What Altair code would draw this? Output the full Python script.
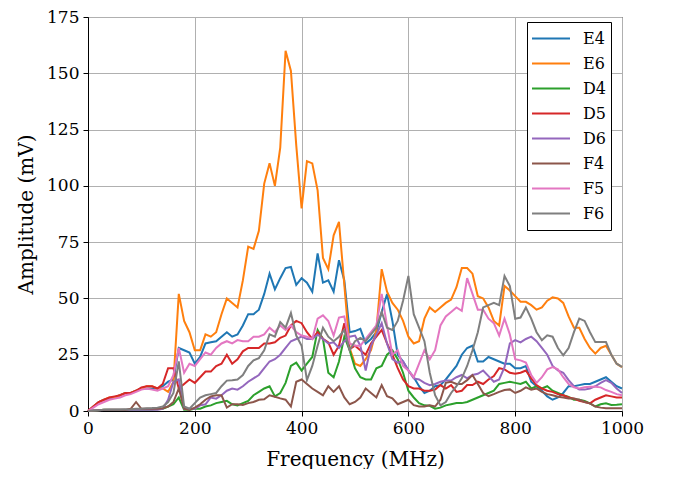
import altair as alt
import pandas as pd

freq = list(range(0, 1001, 10))

series = ["E4", "E6", "D4", "D5", "D6", "F4", "F5", "F6"]
colors = ["#1f77b4", "#ff7f0e", "#2ca02c", "#d62728", "#9467bd", "#8c564b", "#e377c2", "#7f7f7f"]

E4 = [0, 2, 4, 5, 5.5, 6, 7, 8, 8, 9, 10, 10, 10, 10, 11, 13, 14, 28, 27, 26,
      21, 24, 30, 30.5, 31, 33, 35, 33, 34, 38, 43, 43, 45, 52, 61, 54, 59, 63.5, 64, 56,
      59, 57, 53, 70, 57, 58, 53, 67, 58, 35, 35.5, 36.5, 30, 32, 35, 44, 52, 40, 25, 22,
      18, 15, 11, 8, 9, 11, 11.5, 14, 17, 20, 25, 28, 29, 22, 22, 24, 23, 22, 21, 21,
      19, 19, 20, 13, 11, 9, 6.5, 5, 6, 8, 11, 11, 11.5, 12, 12, 13, 14, 15, 13, 11, 10]

E6 = [0, 2, 4, 5, 6, 6, 7, 8, 8, 9, 10, 11, 11, 10, 10, 8.5, 13, 52, 40, 35,
      27, 27, 34, 33, 35, 43, 50, 48, 46, 58, 73, 72, 80, 101, 110, 100, 117, 160, 151, 118,
      90, 111, 110, 98, 68, 63, 78, 84, 56, 28, 21, 20, 23, 27, 36, 63, 53, 48, 45, 40,
      33, 30, 31, 41, 46, 44, 46, 48, 49.5, 55, 63.5, 63.5, 61, 51, 50, 46, 40, 38, 55.5, 53.5,
      51, 48.5, 48.5, 47, 45, 46, 49, 50.5, 50, 48, 42, 37, 37, 32, 28, 25.5, 28, 29, 25, 21, 19.5]

D4 = [0, 0, 0.3, 0.5, 0.5, 0.5, 0.5, 0.5, 0.5, 0.5, 0.5, 0.5, 0.5, 0.8, 1, 2, 3, 6, 0.5, 0.5,
      1, 1, 2, 2.5, 3.5, 4, 4.5, 3, 2.5, 3.5, 4.5, 7, 8.5, 10, 11, 6.5, 8, 12.5, 20, 21.5,
      18, 21, 24, 36, 32, 17, 15, 22, 33, 27, 19, 15, 14, 14, 19, 20, 25, 27, 23, 17,
      9, 6, 3.5, 2.5, 2.3, 1, 1.5, 2.5, 3, 3.5, 3.5, 4, 5, 6, 7, 8, 9, 12, 12.5, 13,
      12.5, 12, 13, 10, 11, 10, 11, 9, 8, 7, 6.3, 5, 5, 4.5, 3.4, 2, 3, 3.4, 2.7, 2.8, 3]

D5 = [0, 2, 4, 5, 6, 6.5, 7, 8, 8, 9, 10.5, 11, 11, 10, 12, 19, 19, 10, 12, 14,
      12.5, 15, 17.5, 17.5, 20, 21, 25, 21, 23, 26.5, 28, 28, 28, 30, 30, 30.5, 32.5, 33.5, 38, 40,
      39, 35, 32, 35, 32, 30.5, 25, 29, 39, 27.5, 29, 27, 25, 30, 33, 36, 30, 25, 19, 14,
      11, 10, 10, 9, 9, 9.5, 11.5, 10, 11.5, 8.5, 9, 11.5, 11.5, 13, 12, 14, 15.5, 19, 18.5, 17,
      16.5, 17, 18, 14.5, 11.5, 10, 9, 8.5, 7.5, 7, 6, 5.5, 4.5, 4, 3.4, 5, 6, 7, 6.5, 6, 6]

D6 = [0, 0.2, 0.3, 0.4, 0.5, 0.5, 0.5, 0.5, 0.5, 0.5, 0.5, 0.5, 0.5, 0.5, 1, 5, 13, 14, 1, 1,
      1, 2.5, 3, 6, 5.5, 7, 9, 10, 9.5, 11, 13, 14.5, 16, 19, 22, 23, 25, 28, 31, 32,
      33, 32, 32, 34, 32, 30, 30.5, 28, 31, 33, 33.5, 29, 18, 29, 34, 39, 30, 23, 21.5, 22,
      18, 14.5, 14, 12.5, 11.5, 12, 13, 13.5, 13.5, 15, 16, 14.5, 16, 16.5, 18, 15.5, 13, 14, 19.5, 30,
      31.5, 30.5, 32, 33, 31, 28, 25, 20, 18, 17, 13.7, 11, 9.5, 9.5, 10, 11, 12.5, 13.7, 12.5, 10, 8]

F4 = [0, 0.2, 0.3, 0.5, 0.5, 0.5, 0.5, 0.5, 1, 4, 1, 1, 1, 1, 1.2, 2, 4, 10, 1, 0.5,
      1.5, 3, 5, 6.5, 7, 7, 1.5, 3, 3, 2.7, 3.5, 4, 5, 5.2, 7, 6.3, 5.6, 5, 2, 13,
      14, 12, 10, 8.5, 7, 11, 8.5, 11, 6, 3, 4, 6, 10, 8, 6, 11.5, 6.6, 5.6, 3, 4,
      5, 2.6, 2, 2, 2.5, 2, 5, 12.5, 13, 12, 12, 13.7, 16, 12, 8, 6.6, 7.5, 8.5, 9.3, 9.6,
      8, 9, 10.5, 9.5, 10, 8.5, 7.5, 7, 6.3, 6, 5.6, 5.6, 5, 4, 3.4, 2, 1.5, 1.2, 1.2, 1.2, 1.2]

F5 = [0, 1.5, 3, 4, 5, 5.5, 6, 7, 7.5, 8.5, 9.5, 10, 9.5, 9, 10, 11, 16, 28, 17, 21,
      20, 23, 26, 25, 28, 30, 31, 30, 31.5, 31, 31, 33, 33, 34, 37, 35, 38, 36, 38, 35,
      33.5, 33, 32, 41, 42.5, 40, 33.5, 41.5, 42, 30, 29, 29, 32, 35, 38, 52, 38, 25, 27, 20,
      18, 15, 21, 27, 23, 27, 38, 42, 44, 46, 44.5, 59, 52, 45, 45, 41, 39, 33.5, 41, 34,
      23, 22.5, 21.5, 16, 12.5, 15, 18.5, 19.5, 18.5, 15, 12, 10.5, 10, 10.5, 10.8, 10.8, 10.5, 9.3, 8.5, 7.5, 7]

F6 = [0, 0.2, 0.3, 0.5, 0.5, 0.5, 0.6, 0.7, 0.8, 1, 1, 1.2, 1.3, 1.5, 2, 4, 8, 22, 2, 1,
      3.5, 6, 7, 7.5, 8, 11, 13.5, 13.7, 14, 16, 20, 22.5, 23.5, 27, 34, 33, 39.5, 37, 43.5, 33.5,
      29, 13.7, 20, 29, 37, 33, 31, 33, 36, 27, 31, 32.5, 31, 34, 37, 44, 37, 36, 40, 49,
      60, 43, 37, 31, 17, 7, 2.5, 4, 8, 11, 14.5, 20, 27, 35, 46, 47, 48, 47, 60, 55.5,
      41, 41.5, 46, 41, 35, 31.4, 33.6, 33, 28, 24.7, 28, 35, 41, 40, 35, 30.6, 30.6, 30.6, 25, 21, 19.6]

values = {"E4": E4, "E6": E6, "D4": D4, "D5": D5, "D6": D6, "F4": F4, "F5": F5, "F6": F6}

rows = []
for s in series:
    for f, v in zip(freq, values[s]):
        rows.append({"Frequency": f, "Amplitude": v, "Series": s})
df = pd.DataFrame(rows)

FONT = "DejaVu Serif"

chart = alt.Chart(df).mark_line(strokeWidth=2).encode(
    x=alt.X("Frequency:Q",
            scale=alt.Scale(domain=[0, 1000], nice=False, zero=False),
            axis=alt.Axis(title="Frequency (MHz)", values=[0, 200, 400, 600, 800, 1000],
                          format="d", labelFlush=False, titlePadding=13)),
    y=alt.Y("Amplitude:Q",
            scale=alt.Scale(domain=[0, 175], nice=False),
            axis=alt.Axis(title="Amplitude (mV)", values=[0, 25, 50, 75, 100, 125, 150, 175],
                          format="d", labelFlush=False, titlePadding=10)),
    color=alt.Color("Series:N",
                    scale=alt.Scale(domain=series, range=colors),
                    sort=series,
                    legend=alt.Legend(title=None, orient="none", legendX=439, legendY=5,
                                      symbolType="stroke", symbolSize=1444, symbolStrokeWidth=2,
                                      labelFontSize=16, labelFont=FONT, labelColor="black",
                                      clipHeight=25, rowPadding=0, padding=4, labelOffset=12,
                                      strokeColor="black", fillColor="white", cornerRadius=0)),
    order=alt.Order("Frequency:Q"),
    detail="Series:N",
).properties(
    width=534, height=394,
    autosize=alt.AutoSizeParams(type="none"),
    padding={"left": 80, "top": 9, "right": 43, "bottom": 58},
).configure_view(
    stroke="black", strokeWidth=1
).configure_axis(
    domainColor="black", domainWidth=1, tickColor="black", tickSize=5, tickWidth=1,
    gridColor="#b0b0b0", gridWidth=1,
    labelFont=FONT, labelFontSize=17, labelColor="black", labelPadding=4,
    titleFont=FONT, titleFontSize=20, titleFontWeight="normal", titleColor="black",
)

chart.save("out.html", embed_options={"renderer": "svg", "actions": False})
